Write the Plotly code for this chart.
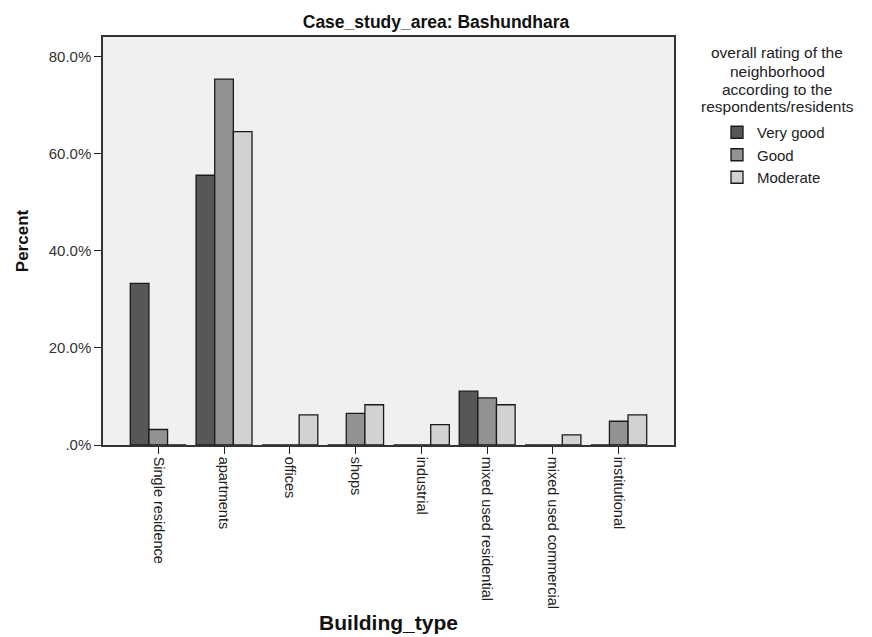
import plotly.graph_objects as go

# Building types on the x axis
building_types = [
    "Single residence", "apartments", "offices", "shops", "industrial",
    "mixed used residential", "mixed used commercial", "institutional",
]

# Percent of respondents per rating, by building type
very_good = [33.3, 55.6, 0.0, 0.0, 0.0, 11.1, 0.0, 0.0]
good = [3.2, 75.4, 0.0, 6.5, 0.0, 9.7, 0.0, 4.9]
moderate = [0.0, 64.6, 6.2, 8.3, 4.2, 8.3, 2.1, 6.2]

series_names = ["Very good", "Good", "Moderate"]
series_values = [very_good, good, moderate]
series_colors = ["#575757", "#929292", "#d2d2d2"]

y_tick_values = [0, 20, 40, 60, 80]
y_tick_labels = [".0%", "20.0%", "40.0%", "60.0%", "80.0%"]

legend_title_lines = [
    "overall rating of the",
    "neighborhood",
    "according to the",
    "respondents/residents",
]

FONT = "Liberation Sans, Arial, sans-serif"
W, H = 872, 637
PLOT_L, PLOT_R, PLOT_T, PLOT_B = 103, 674, 37, 445

fig = go.Figure()
for name, vals, color in zip(series_names, series_values, series_colors):
    fig.add_trace(go.Bar(
        x=building_types,
        y=vals,
        name=name,
        marker=dict(color=color, line=dict(color="#1a1a1a", width=1.3)),
    ))

# Legend heading, one line per annotation for tight line spacing
title_annotations = [
    dict(
        text=line,
        xref="paper", yref="paper",
        x=(777 - PLOT_L) / (PLOT_R - PLOT_L), xanchor="center",
        y=(PLOT_B - (53 + 18 * i)) / (PLOT_B - PLOT_T), yanchor="middle",
        showarrow=False,
        font=dict(size=15.5, color="#222222"),
    )
    for i, line in enumerate(legend_title_lines)
]

fig.update_layout(
    width=W,
    height=H,
    margin=dict(l=PLOT_L, r=W - PLOT_R, t=PLOT_T, b=H - PLOT_B),
    paper_bgcolor="white",
    plot_bgcolor="#f0f0f0",
    barmode="group",
    bargap=0.15,
    bargroupgap=0,
    font=dict(family=FONT, color="#222222", size=15),
    title=dict(
        text="<b>Case_study_area: Bashundhara</b>",
        x=0.5, xanchor="center",
        y=1 - 22 / H, yanchor="middle",
        font=dict(size=17.5, color="#111111"),
    ),
    xaxis=dict(
        type="category",
        range=[-0.84, 7.84],
        tickangle=90,
        automargin=False,
        ticks="outside", ticklen=7, tickwidth=1.3, tickcolor="#222222",
        showline=True, linecolor="#333333", linewidth=1.5, mirror=True,
        showgrid=False,
        tickfont=dict(size=14.5, color="#222222"),
        title=dict(text="<b>Building_type</b>", font=dict(size=21, color="#111111"),
                   standoff=7),
    ),
    yaxis=dict(
        range=[0, 84.1],
        tickvals=y_tick_values,
        ticktext=y_tick_labels,
        automargin=False,
        ticks="outside", ticklen=7, tickwidth=1.3, tickcolor="#222222",
        showline=True, linecolor="#333333", linewidth=1.5, mirror=True,
        showgrid=False, zeroline=False,
        tickfont=dict(size=15, color="#333333"),
        title=dict(text="<b>Percent</b>", font=dict(size=17, color="#111111"),
                   standoff=16),
    ),
    legend=dict(
        x=717 / W, xanchor="left",
        y=1 - 116 / H, yanchor="top",
        xref="container", yref="container",
        bgcolor="rgba(0,0,0,0)",
        font=dict(size=15, color="#222222"),
        itemwidth=30,
        tracegroupgap=0,
    ),
    showlegend=True,
    annotations=title_annotations,
)

fig.write_html("out.html")
